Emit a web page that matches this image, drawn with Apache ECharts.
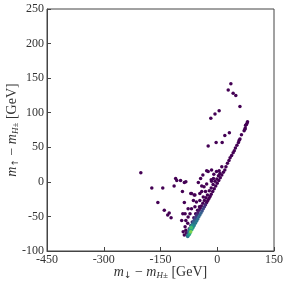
<!DOCTYPE html>
<html><head><meta charset="utf-8">
<script src="https://cdn.jsdelivr.net/npm/echarts@6/dist/echarts.min.js"></script>
<style>html,body{margin:0;padding:0;background:#fff}#c{width:288px;height:288px}</style>
</head><body><div id="c"></div>
<script>
// x = m_down - m_H±, y = m_up - m_H±, d = relative point density (colour)
const xs = [
  -202,-173,-144,-157,-140,-131,-127,-122,-114,-110,-107,-97,-87,-83,-92,-87,-70,-59,
  36,29,42,49,60,5,-6,-17,32,20,-3,13,-24,
  -50,-44,-38,-28,-24,-15,-9,-2,3,5,7,12,-10,-16,-35,-28,-41,-31,-15,
  -68,-61,-46,-41,-37,-46,-55,-63,-59,-68,-77,-85,-91,-94,-72,-77,-83,-78,-85,-83,-90,-81,-87,
  80,79,77,75,74,73,71,64,60,58,56,52,48,45,42,38,34,31,27,23,20,16,12,8,4,
  0,-4,-8,-12,-16,-19,-22,-25,-28,-31,-34,-37,-40,-43,-46,-49,-52,-55,-58,-61,-64,-67,-70,-72,-74,-76,-78,-79,
  -77,-75,-73,-71,-69,-67,-65,-63,-61,-59,-57,-55,-53,-51,-48,-45,-42,-38,-34,-30,-26,-21,-16,-11,-6,-1,
  -74,-70,-66,-62,-57,-52,-47
];
const ys = [
  13,-9,-9,-30,-41,-48,-45,-52,-6,5,2,2,-1,0,-14,-30,-17,-19,
  142,133,128,125,109,103,98,92,71,67,57,57,52,
  -1,5,10,16,15,17,11,15,9,16,12,22,5,3,-7,-3,-6,-14,1,
  -17,-19,-17,-14,-22,-27,-29,-27,-36,-39,-39,-46,-46,-56,-46,-51,-56,-60,-65,-70,-72,-74,-77,
  87,85,83,82,78,76,74,68,62,60,57,53,49,45,42,38,35,31,27,22,17,14,10,6,2,
  -2,-6,-10,-14,-18,-21,-24,-27,-30,-33,-36,-39,-42,-45,-48,-51,-54,-57,-60,-63,-66,-69,-72,-74,-76,-77,-79,-78,
  -74,-72,-70,-67,-66,-63,-61,-58,-56,-54,-52,-49,-47,-45,-41,-38,-35,-31,-27,-23,-19,-13,-9,-4,1,4,
  -68,-63,-58,-52,-46,-41,-36
];
const ds = [
  0,0,0,0,0,0,0,0,0,0,0,0,0,0,0,0,0,0,
  0,0,0,0,0,0,0,0,0,0,0,0,0,
  0,0,0,0,0,0,0,0,0,0,0,0,0,0,0,0,0,0,0,
  0,0,0,0,0,0,0,0,0,0,0,0,0,0,0,0,0,0,0,0,0,0,0,
  0,0,0,0,0,0,0,0,0,0,0,0,0,0,0,0,0,0,0,0,0,0,0,0,0,
  0,0,0,0,0,0,0,0,0,0.1,0.15,0.2,0.25,0.3,0.33,0.35,0.35,0.4,0.4,0.45,0.5,0.6,0.8,0.65,0.55,0.45,0.4,0.3,
  0.2,0.3,0.5,0.6,0.7,0.5,0.35,0.3,0.25,0.2,0.2,0.15,0.1,0.08,0.05,0,0,0,0,0,0,0,0,0,0,0,
  0.1,0.12,0.08,0.05,0,0,0
];
const xTicks = [-450, 150, 150];   // min, max, interval
const yTicks = [-100, 250, 50];

const pts = xs.map((x, i) => [x, ys[i], ds[i]]).sort((a, b) => a[2] - b[2]);
const serif = 'Liberation Serif';
const col = '#333';
const rich = {
  i: {fontFamily: serif, fontStyle: 'italic', fontSize: 14, color: col},
  s: {fontFamily: 'DejaVu Sans', fontSize: 9, color: col, padding: [6, 0, 0, 0]},
  si: {fontFamily: serif, fontStyle: 'italic', fontSize: 9, color: col, padding: [6, 0, 0, 0]},
  n: {fontFamily: serif, fontSize: 14, color: col}
};
const axisCommon = {
  nameLocation: 'middle',
  nameMoveOverlap: false,
  nameTextStyle: {rich: rich},
  splitLine: {show: false},
  axisLine: {show: true, onZero: false, lineStyle: {color: '#444', width: 1}},
  axisTick: {show: true, inside: true, length: 4, lineStyle: {color: '#444'}},
  axisLabel: {fontFamily: serif, fontSize: 12, color: col, showMinLabel: true, showMaxLabel: true, margin: 3}
};
const chart = echarts.init(document.getElementById('c'));
chart.setOption({
  animation: false,
  grid: {left: 47, right: 14, top: 9, bottom: 37, show: true, borderColor: '#444', borderWidth: 1,
         containLabel: false, outerBoundsMode: 'none'},
  xAxis: Object.assign({}, axisCommon, {
    type: 'value', min: xTicks[0], max: xTicks[1], interval: xTicks[2], nameGap: 14,
    name: '{i|m}{s|↓}{n| − }{i|m}{si|H±}{n| [GeV]}'
  }),
  yAxis: Object.assign({}, axisCommon, {
    type: 'value', min: yTicks[0], max: yTicks[1], interval: yTicks[2], nameGap: 27,
    name: '{i|m}{s|↑}{n| − }{i|m}{si|H±}{n| [GeV]}'
  }),
  visualMap: {show: false, type: 'continuous', min: 0, max: 1, dimension: 2,
    inRange: {color: ['#440154','#482878','#3e4989','#31688e','#26828e','#1f9e89','#35b779','#6ece58','#b5de2b','#fde725']}},
  series: [{type: 'scatter', data: pts, symbolSize: 3.5, itemStyle: {opacity: 1}}]
});
</script></body></html>
